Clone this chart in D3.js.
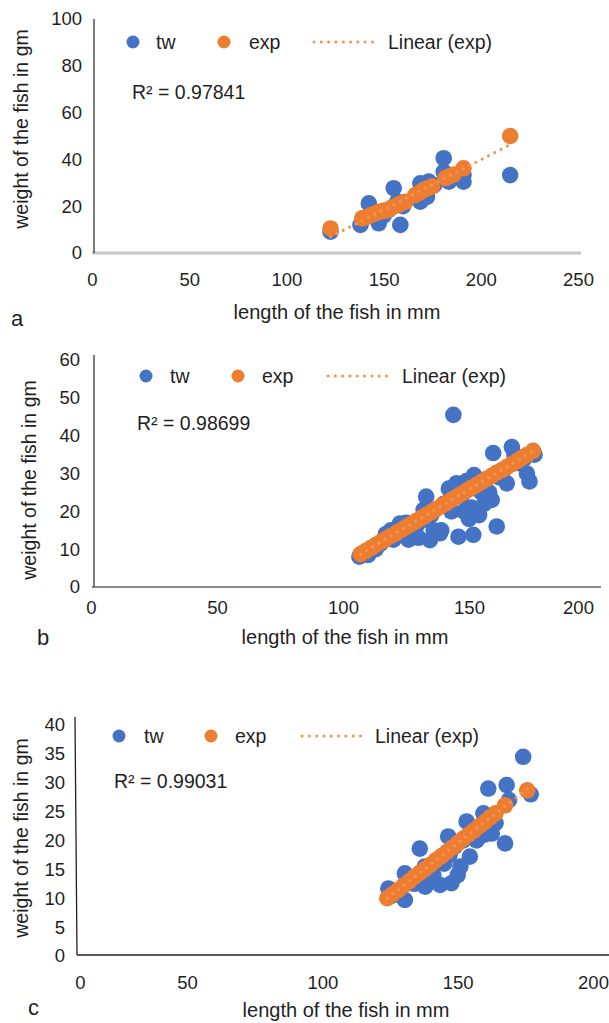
<!DOCTYPE html>
<html><head><meta charset="utf-8">
<script src="https://cdn.jsdelivr.net/npm/d3@7"></script>
<style>
body{margin:0;background:#fff}
svg{display:block}
text{font-family:"Liberation Sans",Arial,sans-serif;fill:#1f1f1f}
</style>
</head><body>
<svg id="chart" width="609" height="1023"></svg>
<script>
// ---------------- DATA ----------------
const seriesNames = ["tw", "exp", "Linear (exp)"];
const panelLetters = ["a", "b", "c"];
const rSquaredLabels = ["R\u00B2 = 0.97841", "R\u00B2 = 0.98699", "R\u00B2 = 0.99031"];
const xTitle = "length of the fish in mm";
const yTitle = "weight of the fish in gm";

// panel a
const aXTicks = [0, 50, 100, 150, 200, 250];
const aYTicks = [0, 20, 40, 60, 80, 100];
const aTwLength = [122.7, 138.1, 142.4, 144, 147.5, 150, 152.6, 155.2, 157, 158.6, 160, 168.9, 168.9, 171, 172.3, 173.2, 176, 180.9, 180.9, 183.6, 191.1, 191.1, 215.1];
const aTwWeight = [9.1, 12.0, 21.2, 17, 12.7, 16, 18.4, 27.7, 22, 12.0, 20, 29.8, 21.9, 27, 24, 30.5, 29, 40.5, 34.7, 30.5, 30.5, 33.3, 33.3];
const aExpLength = [122.7, 139, 141, 143.3, 145.5, 147.6, 150, 151.9, 154, 157, 159, 161.3, 166.4, 168.5, 170.7, 173, 175, 181.9, 184, 186, 191.1, 215.1];
const aExpWeight = [10.5, 14.8, 15.3, 16.2, 16.8, 17.6, 18, 18.3, 19.3, 20.4, 21.2, 21.9, 24.8, 25.8, 27, 27.8, 28.5, 32, 32.8, 33.5, 36.2, 50];

// panel b
const bXTicks = [0, 50, 100, 150, 200];
const bYTicks = [0, 10, 20, 30, 40, 50, 60];
const bTwLength = [106.5, 109, 110, 113, 115, 117, 119, 120, 122.6, 124, 125, 126, 128, 129, 130, 131, 132, 133, 134.5, 135, 136, 138.5, 139, 140, 142, 143, 143.8, 145, 145.8, 147, 148, 149, 150, 151, 151.7, 152, 153, 154, 155, 156, 158, 159, 159.6, 161, 162, 163, 165, 167, 168, 170, 172, 173, 174, 176];
const bTwWeight = [8, 9, 8.5, 10, 11.5, 14, 15, 12.5, 16.8, 14, 17, 12.5, 16, 16, 13, 17.5, 20.4, 23.9, 12.4, 19, 15, 14.2, 15, 22, 26, 20, 45.5, 27.4, 13.3, 24, 20, 28, 18, 21, 13.8, 29.6, 26, 19, 25, 22, 25, 23, 35.4, 16, 29, 30, 27.4, 37, 35, 32.7, 34, 30, 27.9, 35];
const bExpLength = [107, 109, 111, 113, 115, 117, 119, 121, 123, 125, 127, 129, 131, 133, 135, 137, 139, 141, 143, 145, 147, 149, 151, 153, 155, 157, 159, 161, 163, 165, 167, 169, 171, 173, 175.4];
const bExpWeight = [8.7, 9.5, 10.3, 11.1, 11.9, 12.7, 13.5, 14.2, 15.0, 15.8, 16.6, 17.4, 18.2, 19.0, 19.8, 20.6, 21.4, 22.2, 23.0, 23.8, 24.6, 25.4, 26.2, 27.0, 27.8, 28.6, 29.4, 30.2, 30.9, 31.7, 32.5, 33.3, 34.1, 34.9, 36.0];

// panel c
const cXTicks = [0, 50, 100, 150, 200];
const cYTicks = [0, 5, 10, 15, 20, 25, 30, 35, 40];
const cTwLength = [124.4, 126, 127, 130.5, 130.5, 132, 134, 136, 137.9, 138, 140, 141, 143.5, 145, 146.5, 147, 147.7, 149, 150, 151, 152, 153.3, 154.5, 155, 157, 159.5, 160, 161.3, 162.6, 164, 167.5, 168.1, 169, 174.2, 177];
const cTwWeight = [11.7, 10.5, 11, 9.7, 14.3, 13, 12.5, 18.6, 15.5, 12, 13, 14, 12.3, 16, 20.7, 17.5, 12.6, 19, 14, 15.5, 20, 23.3, 17.2, 22, 20, 24.7, 21, 29, 21.2, 23, 19.5, 29.6, 27, 34.5, 28];
const cExpLength = [124, 126, 128, 130, 132, 134, 136, 138, 140, 142, 144, 146, 148, 150, 152, 154, 156, 158, 160, 162, 164, 167.5, 175.7];
const cExpWeight = [10.0, 10.7, 11.4, 12.2, 12.9, 13.7, 14.4, 15.1, 15.8, 16.6, 17.3, 18.0, 18.8, 19.5, 20.3, 21.0, 21.7, 22.5, 23.2, 24.0, 24.7, 26.1, 28.7];

// ---------------- LAYOUT ----------------
const BLUE = "#4472C4", ORANGE = "#ED7D31", TREND = "#F29550";
const svg = d3.select("#chart");

const panels = [
  {
    twL: aTwLength, twW: aTwWeight, exL: aExpLength, exW: aExpWeight,
    xTicks: aXTicks, yTicks: aYTicks, r2: rSquaredLabels[0], letter: panelLetters[0],
    x: d3.scaleLinear().domain([0, 250]).range([92, 578]),
    y: d3.scaleLinear().domain([0, 100]).range([253, 19]),
    yLine: [94, 19, 94, 253], yLineColor: "#333", yLineW: 1.3,
    xLine: [92, 253, 581, 253], xLineColor: "#c8c8c8", xLineW: 3,
    xPad: 20, yPad: 12, yAxisX: 94, xAxisY: 253,
    legY: 42, legTw: 133, legTwT: 156, legEx: 224, legExT: 249, legL1: 314, legL2: 379, legLT: 388,
    r2Pos: [132, 92], xTitlePos: [337, 312], yTitlePos: [21, 129], letterPos: [11, 318], lastShift: 0
  },
  {
    twL: bTwLength, twW: bTwWeight, exL: bExpLength, exW: bExpWeight,
    xTicks: bXTicks, yTicks: bYTicks, r2: rSquaredLabels[1], letter: panelLetters[1],
    x: d3.scaleLinear().domain([0, 200]).range([91, 595]),
    y: d3.scaleLinear().domain([0, 60]).range([587, 360]),
    yLine: [94, 355, 94, 587], yLineColor: "#333", yLineW: 1.3,
    xLine: [92, 587, 601, 587], xLineColor: "#8c8c8c", xLineW: 2,
    xPad: 14, yPad: 14, yAxisX: 94, xAxisY: 587,
    legY: 376, legTw: 146, legTwT: 170, legEx: 238, legExT: 262, legL1: 328, legL2: 393, legLT: 402,
    r2Pos: [137, 423], xTitlePos: [345, 637], yTitlePos: [29, 480], letterPos: [37, 637], lastShift: -17
  },
  {
    twL: cTwLength, twW: cTwWeight, exL: cExpLength, exW: cExpWeight,
    xTicks: cXTicks, yTicks: cYTicks, r2: rSquaredLabels[2], letter: panelLetters[2],
    x: d3.scaleLinear().domain([0, 50, 200]).range([80, 187, 593]),
    y: d3.scaleLinear().domain([0, 40]).range([956, 725]),
    yLine: [75, 717, 77, 955], yLineColor: "#222", yLineW: 1.3,
    xLine: [77, 955, 609, 955], xLineColor: "#222", xLineW: 1.5,
    xPad: 21, yPad: 12, yAxisX: 77, xAxisY: 955,
    legY: 736, legTw: 119, legTwT: 144, legEx: 211, legExT: 235, legL1: 302, legL2: 366, legLT: 375,
    r2Pos: [114, 781], xTitlePos: [346, 1010], yTitlePos: [21, 838], letterPos: [28, 1007], lastShift: 0
  }
];

function linReg(xs, ys) {
  const n = xs.length, mx = d3.mean(xs), my = d3.mean(ys);
  let sxy = 0, sxx = 0;
  for (let i = 0; i < n; i++) { sxy += (xs[i] - mx) * (ys[i] - my); sxx += (xs[i] - mx) ** 2; }
  const m = sxy / sxx;
  return { m, b: my - m * mx };
}

panels.forEach(p => {
  const g = svg.append("g");

  g.append("line").attr("x1", p.xLine[0]).attr("y1", p.xLine[1]).attr("x2", p.xLine[2]).attr("y2", p.xLine[3])
    .attr("stroke", p.xLineColor).attr("stroke-width", p.xLineW);
  g.append("line").attr("x1", p.yLine[0]).attr("y1", p.yLine[1]).attr("x2", p.yLine[2]).attr("y2", p.yLine[3])
    .attr("stroke", p.yLineColor).attr("stroke-width", p.yLineW);

  const xa = g.append("g").attr("transform", `translate(0,${p.xAxisY})`)
    .call(d3.axisBottom(p.x).tickValues(p.xTicks).tickSize(0).tickPadding(p.xPad).tickFormat(d3.format("d")));
  xa.select(".domain").remove();
  xa.selectAll("text").style("font-size", "18.5px").attr("fill", "#1f1f1f")
    .style("font-family", '"Liberation Sans", Arial, sans-serif');
  if (p.lastShift) xa.selectAll(".tick").filter((d, i, n) => i === n.length - 1).select("text").attr("x", p.lastShift);

  const ya = g.append("g").attr("transform", `translate(${p.yAxisX},0)`)
    .call(d3.axisLeft(p.y).tickValues(p.yTicks).tickSize(0).tickPadding(p.yPad).tickFormat(d3.format("d")));
  ya.select(".domain").remove();
  ya.selectAll("text").style("font-size", "18.5px").attr("fill", "#1f1f1f")
    .style("font-family", '"Liberation Sans", Arial, sans-serif');

  g.append("g").selectAll("circle").data(d3.range(p.twL.length)).join("circle")
    .attr("cx", i => p.x(p.twL[i])).attr("cy", i => p.y(p.twW[i])).attr("r", 8.3).attr("fill", BLUE);
  g.append("g").selectAll("circle").data(d3.range(p.exL.length)).join("circle")
    .attr("cx", i => p.x(p.exL[i])).attr("cy", i => p.y(p.exW[i])).attr("r", 8.3).attr("fill", ORANGE);

  const fit = linReg(p.exL, p.exW);
  const x0 = d3.min(p.exL), x1 = d3.max(p.exL);
  g.append("line").attr("x1", p.x(x0)).attr("y1", p.y(fit.m * x0 + fit.b))
    .attr("x2", p.x(x1)).attr("y2", p.y(fit.m * x1 + fit.b))
    .attr("stroke", TREND).attr("stroke-width", 3).attr("stroke-linecap", "round")
    .attr("stroke-dasharray", "0.1 7");

  g.append("circle").attr("cx", p.legTw).attr("cy", p.legY).attr("r", 6.5).attr("fill", BLUE);
  g.append("text").attr("x", p.legTwT).attr("y", p.legY).attr("dominant-baseline", "central")
    .style("font-size", "19.5px").text(seriesNames[0]);
  g.append("circle").attr("cx", p.legEx).attr("cy", p.legY).attr("r", 6.5).attr("fill", ORANGE);
  g.append("text").attr("x", p.legExT).attr("y", p.legY).attr("dominant-baseline", "central")
    .style("font-size", "19.5px").text(seriesNames[1]);
  g.append("line").attr("x1", p.legL1).attr("y1", p.legY).attr("x2", p.legL2).attr("y2", p.legY)
    .attr("stroke", TREND).attr("stroke-width", 3).attr("stroke-linecap", "round").attr("stroke-dasharray", "0.1 7.2");
  g.append("text").attr("x", p.legLT).attr("y", p.legY).attr("dominant-baseline", "central")
    .style("font-size", "19.5px").text(seriesNames[2]);

  g.append("text").attr("x", p.r2Pos[0]).attr("y", p.r2Pos[1]).attr("dominant-baseline", "central")
    .style("font-size", "19.5px").text(p.r2);

  g.append("text").attr("x", p.xTitlePos[0]).attr("y", p.xTitlePos[1]).attr("text-anchor", "middle")
    .attr("dominant-baseline", "central").style("font-size", "20px").text(xTitle);
  g.append("text").attr("transform", `translate(${p.yTitlePos[0]},${p.yTitlePos[1]}) rotate(-90)`)
    .attr("text-anchor", "middle").attr("dominant-baseline", "central").style("font-size", "19.5px").text(yTitle);
  g.append("text").attr("x", p.letterPos[0]).attr("y", p.letterPos[1]).attr("dominant-baseline", "central")
    .style("font-size", "22px").text(p.letter);
});
</script>
</body></html>
